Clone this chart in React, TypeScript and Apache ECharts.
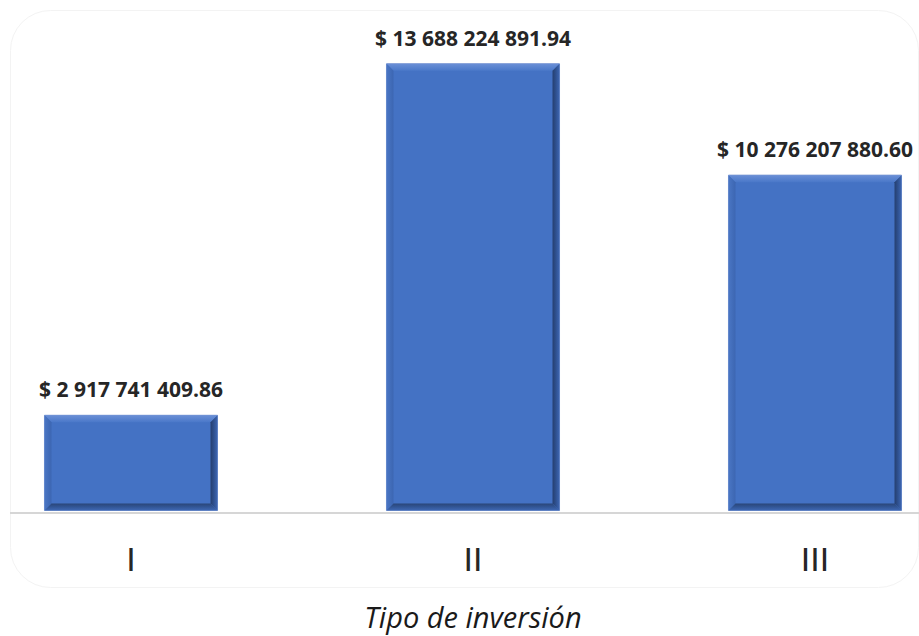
import React, { useEffect, useRef } from "react";
import * as echarts from "echarts";

const categories = ["I", "II", "III"];
const values = [2917741409.86, 13688224891.94, 10276207880.6];
const axisTitle = "Tipo de inversión";
const yMax = 15e9;

// The plot area is wider than the visible picture (the reference is cropped).
const OFFSET_X = 40;
const CHART_W = 1026;

function formatMoney(v: number): string {
  const [intPart, dec] = v.toFixed(2).split(".");
  const grouped = intPart.replace(/\B(?=(\d{3})+(?!\d))/g, " ");
  return "$ " + grouped + "." + dec;
}

export default function App() {
  const ref = useRef<HTMLDivElement>(null);
  useEffect(() => {
    document.body.style.margin = "0";
    const chart = echarts.init(ref.current!, undefined, { renderer: "svg" });
    const option = {
      animation: false,
      backgroundColor: "#ffffff",
      grid: { left: 0, right: 0, top: 21, bottom: 123 },
      xAxis: {
        type: "category",
        data: categories,
        axisLine: { show: false },
        axisTick: { show: false },
        axisLabel: {
          margin: 48,
          verticalAlign: "middle",
          fontFamily: "'Liberation Sans Narrow', 'Liberation Sans', sans-serif",
          fontSize: 34,
          color: "#262626",
        },
        name: axisTitle,
        nameLocation: "middle",
        nameGap: 106,
        nameTextStyle: {
          fontFamily: "'Open Sans', sans-serif",
          fontStyle: "italic",
          fontSize: 29,
          color: "#1a1a1a",
          verticalAlign: "middle",
        },
      },
      yAxis: {
        type: "value",
        min: 0,
        max: yMax,
        show: false,
        splitLine: { show: false },
      },
      graphic: [
        {
          type: "rect",
          shape: { x: OFFSET_X + 10.5, y: 10.5, width: 908, height: 577, r: 40 },
          style: { fill: "none", stroke: "#f3f3f3", lineWidth: 1 },
          z: 0,
        },
        {
          type: "line",
          shape: { x1: OFFSET_X + 10, y1: 513, x2: OFFSET_X + 919, y2: 513 },
          style: { stroke: "#d6d6d6", lineWidth: 2 },
          z: 1,
        },
      ],
      series: [
        {
          type: "custom",
          encode: { x: 0, y: 1 },
          data: categories.map((c, i) => [i, values[i]]),
          z: 5,
          renderItem: (params: any, api: any) => {
            const idx = api.value(0);
            const v = api.value(1);
            const top = api.coord([idx, v]);
            const base = api.coord([idx, 0]);
            const band = api.size([1, 0])[0];
            const w = band * 0.506;
            const x = top[0] - w / 2;
            const y = top[1];
            const h = base[1] - top[1];
            const b = 7;
            return {
              type: "group",
              children: [
                {
                  type: "rect",
                  shape: { x, y, width: w, height: h },
                  style: { fill: "#4472C4", stroke: "#7f9bd3", lineWidth: 1 },
                },
                {
                  type: "polygon",
                  shape: { points: [[x, y], [x + w, y], [x + w - b, y + b], [x + b, y + b]] },
                  style: {
                    fill: new echarts.graphic.LinearGradient(0, 0, 0, 1, [
                      { offset: 0, color: "#6a8fd6" },
                      { offset: 1, color: "#4a78c9" },
                    ]),
                  },
                },
                {
                  type: "polygon",
                  shape: { points: [[x, y], [x + b, y + b], [x + b, y + h - b], [x, y + h]] },
                  style: {
                    fill: new echarts.graphic.LinearGradient(0, 0, 1, 0, [
                      { offset: 0, color: "#4a76c4" },
                      { offset: 1, color: "#3c66b2" },
                    ]),
                  },
                },
                {
                  type: "polygon",
                  shape: { points: [[x + w, y], [x + w, y + h], [x + w - b, y + h - b], [x + w - b, y + b]] },
                  style: {
                    fill: new echarts.graphic.LinearGradient(0, 0, 1, 0, [
                      { offset: 0, color: "#253f6f" },
                      { offset: 0.5, color: "#2f5190" },
                      { offset: 1, color: "#3e67b3" },
                    ]),
                  },
                },
                {
                  type: "polygon",
                  shape: { points: [[x, y + h], [x + w, y + h], [x + w - b, y + h - b], [x + b, y + h - b]] },
                  style: {
                    fill: new echarts.graphic.LinearGradient(0, 0, 0, 1, [
                      { offset: 0, color: "#2a4678" },
                      { offset: 0.5, color: "#325696" },
                      { offset: 1, color: "#3f68b4" },
                    ]),
                  },
                },
                {
                  type: "text",
                  style: {
                    x: top[0],
                    y: y - 26,
                    text: formatMoney(v),
                    fontFamily: "'Open Sans', sans-serif",
                    fontWeight: "bold",
                    fontSize: 21,
                    fill: "#262626",
                    align: "center",
                    verticalAlign: "middle",
                  },
                },
              ],
            };
          },
        },
      ],
    };
    chart.setOption(option as any);
    return () => chart.dispose();
  }, []);
  return (
    <div style={{ width: 919, height: 636, overflow: "hidden", position: "relative" }}>
      <div ref={ref} style={{ position: "absolute", left: -OFFSET_X, top: 0, width: CHART_W, height: 636 }} />
    </div>
  );
}
